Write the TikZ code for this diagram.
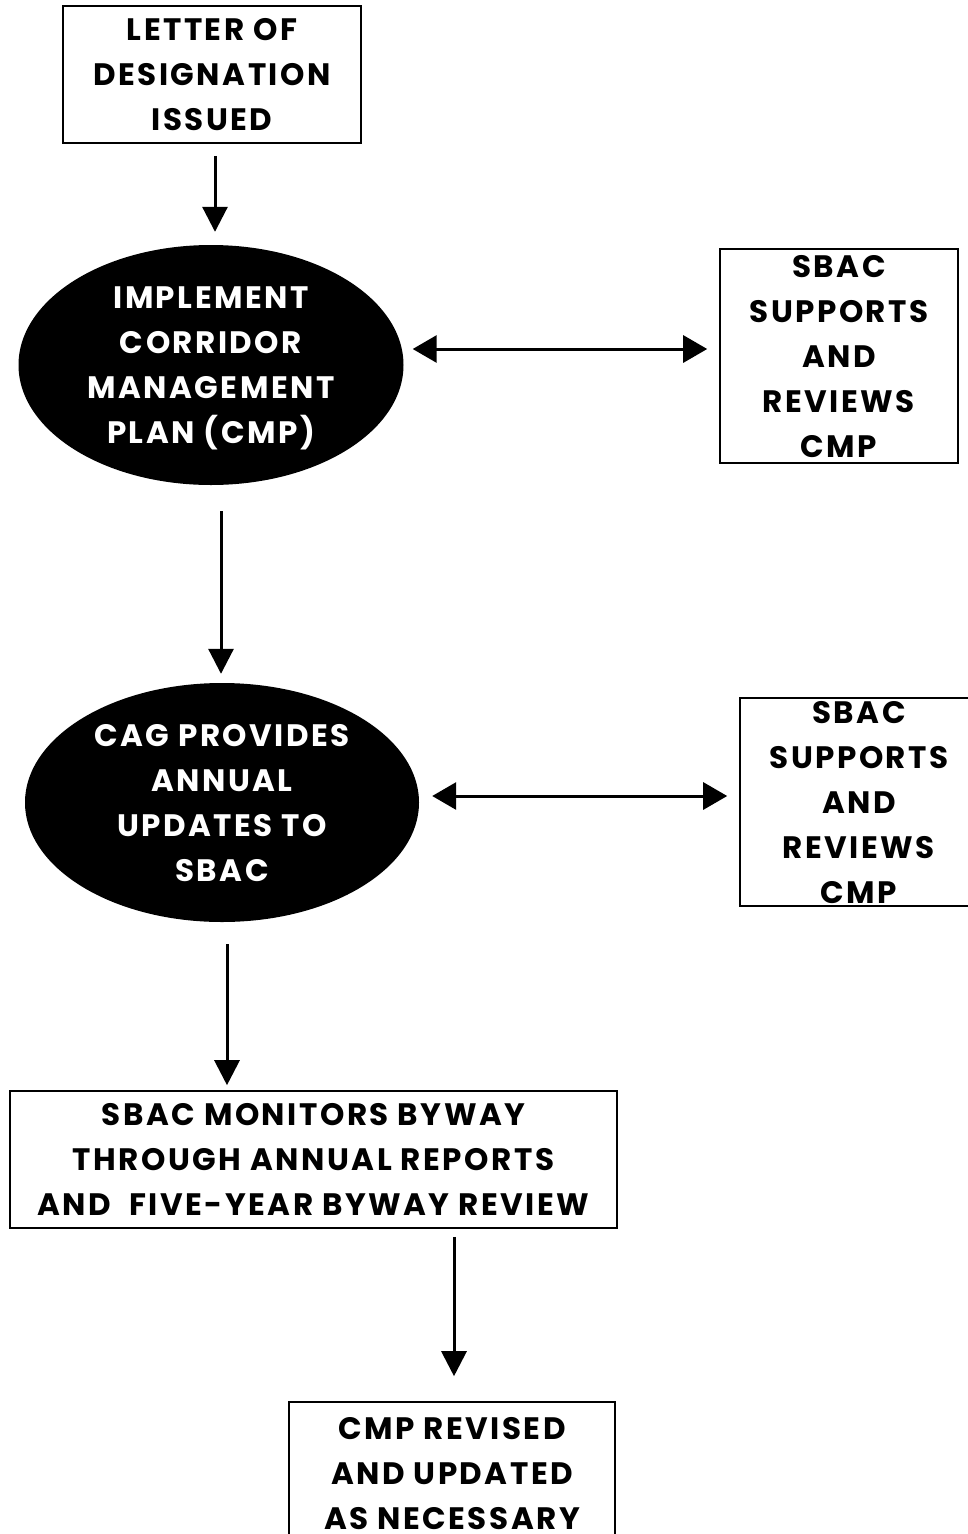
\documentclass[tikz,border=0pt]{standalone}
\usepackage{fontspec}
\setmainfont{Poppins}[LetterSpace=8]
\usepackage{tikz}
\usetikzlibrary{shapes,arrows,positioning,calc,arrows.meta}

\tikzset{
    stepbox/.style={draw, line width=1.6pt, rectangle, align=center, inner sep=0pt, text depth=-6pt,
        font=\fontsize{31}{45}\selectfont\bfseries},
    blob/.style={ellipse, fill=black, text=white, align=center, inner sep=0pt, text depth=-4pt,
        font=\fontsize{31}{45}\selectfont\bfseries},
    flow/.style={line width=3pt, -{Triangle[length=25pt,width=25pt]}},
    both/.style={line width=3pt, {Triangle[length=24pt,width=27pt]}-{Triangle[length=24pt,width=27pt]}}
}

\begin{document}
\begin{tikzpicture}[x=1pt,y=-1pt]
        \useasboundingbox (0,0) rectangle (967,1534);

        % Designation
        \node[stepbox, minimum width=298pt, minimum height=137pt] (letter) at (212,74.5)
            {LETTER OF\\DESIGNATION\\ISSUED};

        % CMP row
        \node[blob, minimum width=385pt, minimum height=240pt] (implement) at (211,365)
            {IMPLEMENT\\CORRIDOR\\MANAGEMENT\\PLAN (CMP)};
        \node[stepbox, minimum width=238pt, minimum height=214pt] (sbacA) at (839,356)
            {SBAC\\SUPPORTS\\AND\\REVIEWS\\CMP};

        % Annual updates row
        \node[blob, minimum width=394pt, minimum height=239pt] (cag) at (222,802.5)
            {CAG PROVIDES\\ANNUAL\\UPDATES TO\\SBAC};
        \node[stepbox, minimum width=238pt, minimum height=208pt] (sbacB) at (859,802)
            {SBAC\\SUPPORTS\\AND\\REVIEWS\\CMP};

        % Monitoring
        \node[stepbox, minimum width=607pt, minimum height=137pt] (monitor) at (313.5,1159.5)
            {SBAC MONITORS BYWAY\\THROUGH ANNUAL REPORTS\\AND\ \ FIVE-YEAR BYWAY REVIEW};

        % Revision
        \node[stepbox, minimum width=326pt, minimum height=142pt] (revised) at (452,1473)
            {CMP REVISED\\AND UPDATED\\AS NECESSARY};

        % Connectors
        \draw[flow, shorten <=12pt, shorten >=13pt] ([xshift=3pt]letter.south) -- ([xshift=4pt]implement.north);
        \draw[flow, shorten <=26pt, shorten >=9pt] ([xshift=10pt]implement.south) -- ([xshift=-1pt]cag.north);
        \draw[flow, shorten <=22pt, shorten >=5pt] ([xshift=5pt]cag.south) -- ([xshift=-86.5pt]monitor.north);
        \draw[flow, shorten <=8pt, shorten >=25pt] ([xshift=140.5pt]monitor.south) -- ([xshift=2pt]revised.north);
        \draw[both, shorten <=9pt, shorten >=12pt] ([yshift=16pt]implement.east) -- ([yshift=7pt]sbacA.west);
        \draw[both, shorten <=13pt, shorten >=12pt] ([yshift=6.5pt]cag.east) -- ([yshift=6pt]sbacB.west);
    \end{tikzpicture}
\end{document}
